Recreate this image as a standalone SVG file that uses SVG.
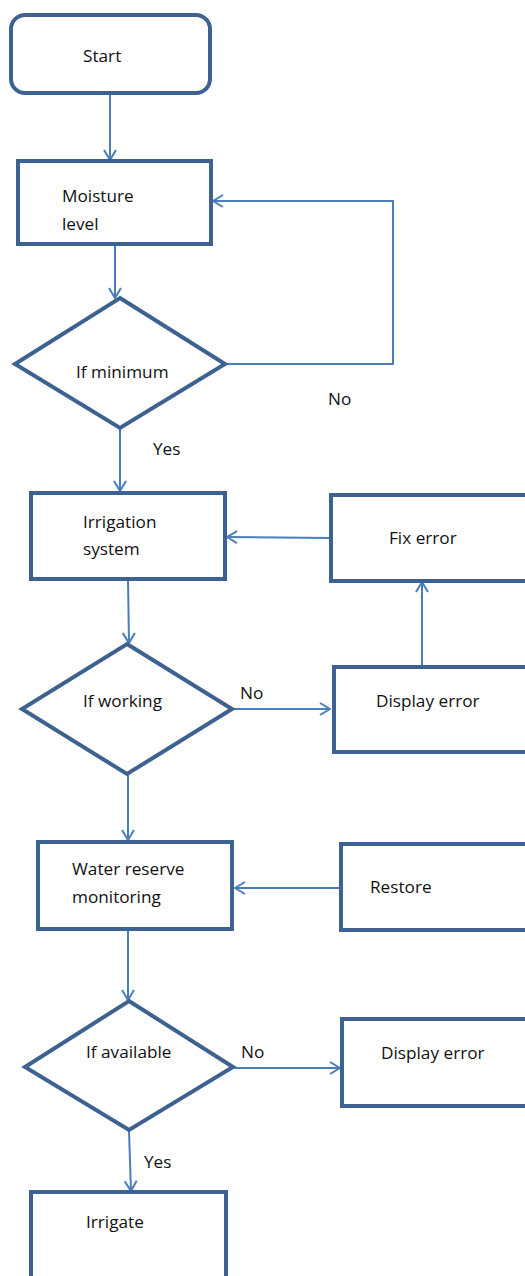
<svg xmlns="http://www.w3.org/2000/svg" width="525" height="1276" viewBox="0 0 525 1276">
<style>
.box{fill:#fff;stroke:#3d6291;stroke-width:4}
.con{fill:none;stroke:#4a7ebb;stroke-width:2}
text{font-family:"Open Sans","Liberation Sans",sans-serif;font-size:17.2px;fill:#111}
</style>
<defs>
<marker id="ah" viewBox="0 0 12 14" refX="11" refY="7" markerWidth="12" markerHeight="14" markerUnits="userSpaceOnUse" orient="auto">
<path d="M1,1 L11,7 L1,13" fill="none" stroke="#4a7ebb" stroke-width="2"/>
</marker>
</defs>
<rect width="525" height="1276" fill="#fff"/>
<g id="connectors">
<path class="con" d="M110,94 L110,160" marker-end="url(#ah)"/>
<path class="con" d="M115,245 L115,298" marker-end="url(#ah)"/>
<path class="con" d="M225,364 L393,364 L393,201 L213,201" marker-end="url(#ah)"/>
<path class="con" d="M120,429 L120,491" marker-end="url(#ah)"/>
<path class="con" d="M330,538 L227,537" marker-end="url(#ah)"/>
<path class="con" d="M128,580 L129,643" marker-end="url(#ah)"/>
<path class="con" d="M232,709 L330,709" marker-end="url(#ah)"/>
<path class="con" d="M422,666 L422,582" marker-end="url(#ah)"/>
<path class="con" d="M128,775 L128,840" marker-end="url(#ah)"/>
<path class="con" d="M340,888 L235,888" marker-end="url(#ah)"/>
<path class="con" d="M128,931 L128,1000" marker-end="url(#ah)"/>
<path class="con" d="M233,1068 L340,1068" marker-end="url(#ah)"/>
<path class="con" d="M129,1131 L131,1191" marker-end="url(#ah)"/>
</g>
<g id="start">
<rect class="box" x="11" y="15" width="199" height="78" rx="14"/>
<text x="83" y="62">Start</text>
</g>
<g id="moisture">
<rect class="box" x="18" y="161" width="193" height="83"/>
<text x="62" y="202">Moisture</text>
<text x="62" y="230">level</text>
</g>
<g id="ifminimum">
<polygon class="box" points="120,298 225,364 120,428 15,364"/>
<text x="76" y="378">If minimum</text>
</g>
<text x="328" y="405">No</text>
<text x="153" y="455">Yes</text>
<g id="irrigation">
<rect class="box" x="31" y="493" width="194" height="86"/>
<text x="83" y="528">Irrigation</text>
<text x="83" y="555">system</text>
</g>
<g id="fixerror">
<rect class="box" x="331" y="495" width="200" height="86"/>
<text x="389" y="544">Fix error</text>
</g>
<g id="ifworking">
<polygon class="box" points="127,644 232,709 127,774 22,709"/>
<text x="83" y="707">If working</text>
</g>
<text x="240" y="699">No</text>
<g id="displayerror1">
<rect class="box" x="334" y="667" width="200" height="85"/>
<text x="376" y="707">Display error</text>
</g>
<g id="water">
<rect class="box" x="38" y="842" width="194" height="87"/>
<text x="72" y="875">Water reserve</text>
<text x="72" y="903">monitoring</text>
</g>
<g id="restore">
<rect class="box" x="341" y="844" width="200" height="86"/>
<text x="370" y="893">Restore</text>
</g>
<g id="ifavailable">
<polygon class="box" points="129,1001 233,1067 129,1130 25,1067"/>
<text x="86" y="1058">If available</text>
</g>
<text x="241" y="1058">No</text>
<g id="displayerror2">
<rect class="box" x="342" y="1019" width="200" height="87"/>
<text x="381" y="1059">Display error</text>
</g>
<text x="144" y="1168">Yes</text>
<g id="irrigate">
<rect class="box" x="31" y="1192" width="195" height="100"/>
<text x="86" y="1228">Irrigate</text>
</g>
</svg>
